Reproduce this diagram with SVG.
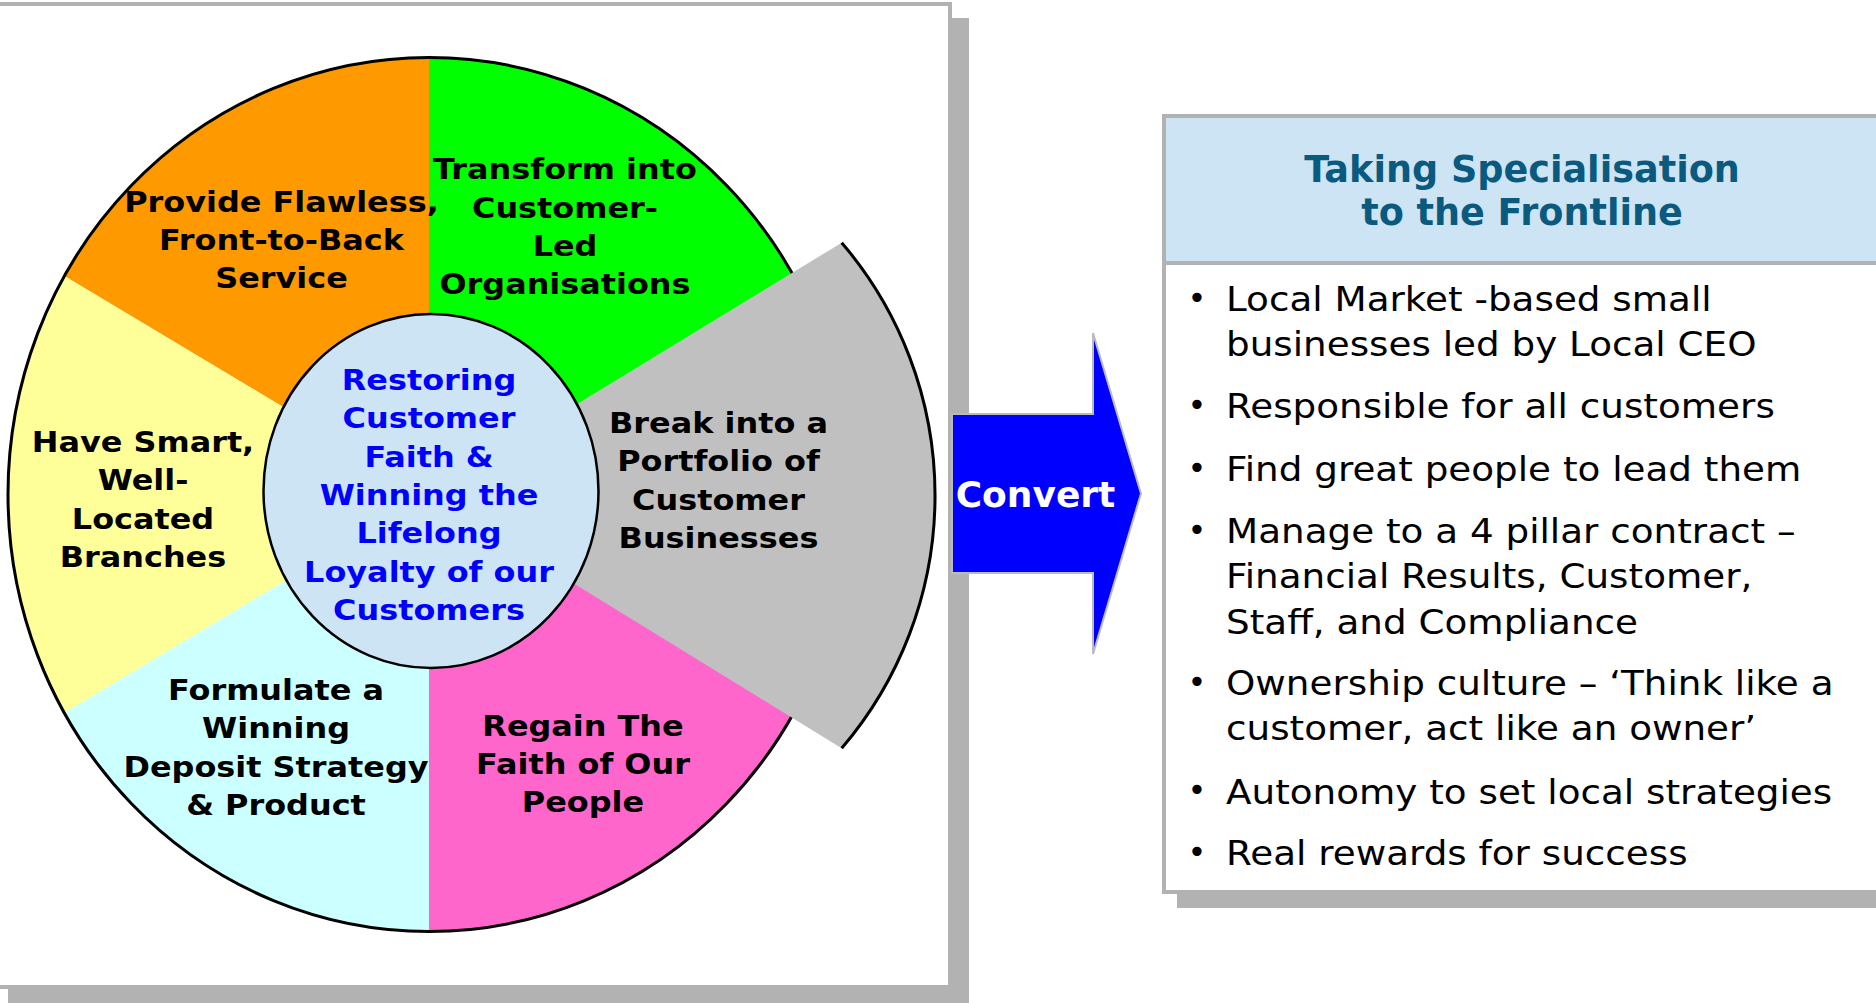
<svg xmlns="http://www.w3.org/2000/svg" width="1876" height="1003" viewBox="0 0 1876 1003">
  <style>
    .panel { fill: #FFFFFF; stroke: #B2B2B2; stroke-width: 4; }
    .shadow { fill: #B2B2B2; }
    .lbl { font-family: "DejaVu Sans", Verdana, sans-serif; font-weight: bold; font-size: 29px; fill: #000000; text-anchor: middle; }
    .hub { fill: #0000FF; }
    .head { font-family: "DejaVu Sans", Verdana, sans-serif; font-weight: bold; font-size: 36.6px; fill: #0A5A80; text-anchor: middle; }
    .item { font-family: "DejaVu Sans", Verdana, sans-serif; font-size: 33px; fill: #000000; }
    .dot { font-family: "DejaVu Sans", Verdana, sans-serif; font-size: 32px; fill: #000000; text-anchor: middle; }
    .conv { font-family: "DejaVu Sans", Verdana, sans-serif; font-weight: bold; font-size: 36px; fill: #FFFFFF; text-anchor: middle; }
  </style>

  <rect width="1876" height="1003" fill="#FFFFFF"/>

  <!-- left panel with drop shadow -->
  <g id="wheel-panel">
    <rect class="shadow" x="8" y="18" width="961" height="995"/>
    <rect class="panel" x="-4" y="4" width="954" height="983"/>
  </g>

  <!-- priority wheel -->
  <g id="wheel">
    <g id="seg-transform">
      <path d="M429,494.5 L429,57.5 A421,437 0 0 1 793.6,276 Z" fill="#00FF00"/>
    </g>
    <g id="seg-service">
      <path d="M429,494.5 L64.4,276 A421,437 0 0 1 429,57.5 Z" fill="#FF9900"/>
    </g>
    <g id="seg-branches">
      <path d="M429,494.5 L64.4,713 A421,437 0 0 1 64.4,276 Z" fill="#FFFF99"/>
    </g>
    <g id="seg-deposit">
      <path d="M429,494.5 L429,931.5 A421,437 0 0 1 64.4,713 Z" fill="#CCFFFF"/>
    </g>
    <g id="seg-people">
      <path d="M429,494.5 L793.6,713 A421,437 0 0 1 429,931.5 Z" fill="#FF66CC"/>
    </g>
    <ellipse cx="429" cy="494.5" rx="421" ry="437" fill="none" stroke="#000000" stroke-width="3"/>

    <!-- exploded segment -->
    <g id="seg-portfolio">
      <path d="M429,494.5 L841.7,242.7 A389,389 0 0 1 841.7,748.3 Z" fill="#C0C0C0"/>
      <path d="M841.7,242.7 A389,389 0 0 1 841.7,748.3" fill="none" stroke="#000000" stroke-width="3"/>
    </g>

    <g id="hub">
      <ellipse cx="431" cy="491" rx="167.5" ry="177" fill="#CCE4F4" stroke="#000000" stroke-width="2.5"/>
    </g>
  </g>

  <!-- wheel labels -->
  <g id="label-service" transform="translate(281.5,0) scale(1.1,1)">
    <text class="lbl"><tspan x="0" y="211.8">Provide Flawless,</tspan><tspan x="0" y="250">Front-to-Back</tspan><tspan x="0" y="288.3">Service</tspan></text>
  </g>
  <g id="label-transform" transform="translate(565,0) scale(1.1,1)">
    <text class="lbl"><tspan x="0" y="179.5">Transform into</tspan><tspan x="0" y="217.8">Customer-</tspan><tspan x="0" y="256">Led</tspan><tspan x="0" y="294.3">Organisations</tspan></text>
  </g>
  <g id="label-branches" transform="translate(143,0) scale(1.1,1)">
    <text class="lbl"><tspan x="0" y="452">Have Smart,</tspan><tspan x="0" y="490.5">Well-</tspan><tspan x="0" y="528.8">Located</tspan><tspan x="0" y="567">Branches</tspan></text>
  </g>
  <g id="label-portfolio" transform="translate(718.5,0) scale(1.1,1)">
    <text class="lbl"><tspan x="0" y="433">Break into a</tspan><tspan x="0" y="471.4">Portfolio of</tspan><tspan x="0" y="509.7">Customer</tspan><tspan x="0" y="548">Businesses</tspan></text>
  </g>
  <g id="label-deposit" transform="translate(276,0) scale(1.1,1)">
    <text class="lbl"><tspan x="0" y="700">Formulate a</tspan><tspan x="0" y="738.3">Winning</tspan><tspan x="0" y="776.6">Deposit Strategy</tspan><tspan x="0" y="815">&amp; Product</tspan></text>
  </g>
  <g id="label-people" transform="translate(583,0) scale(1.1,1)">
    <text class="lbl"><tspan x="0" y="736">Regain The</tspan><tspan x="0" y="774">Faith of Our</tspan><tspan x="0" y="812">People</tspan></text>
  </g>
  <g id="label-hub" transform="translate(429,0) scale(1.1,1)">
    <text class="lbl hub"><tspan x="0" y="390">Restoring</tspan><tspan x="0" y="428.3">Customer</tspan><tspan x="0" y="466.6">Faith &amp;</tspan><tspan x="0" y="505">Winning the</tspan><tspan x="0" y="543.3">Lifelong</tspan><tspan x="0" y="581.6">Loyalty of our</tspan><tspan x="0" y="620">Customers</tspan></text>
  </g>

  <!-- connector: block arrow -->
  <g id="connectors">
    <g id="convert-arrow">
      <polygon points="952,414 1093,414 1093,333 1141,493.5 1093,654 1093,573 952,573" fill="#0000FF" stroke="#BBBBBB" stroke-width="2" stroke-linejoin="miter"/>
      <text class="conv" x="1035.5" y="507">Convert</text>
    </g>
  </g>

  <!-- right panel -->
  <g id="frontline-panel">
    <rect class="shadow" x="1177" y="130" width="720" height="778"/>
    <rect x="1164" y="116" width="730" height="776" fill="#FFFFFF" stroke="#B2B2B2" stroke-width="4"/>
    <rect x="1166" y="118" width="728" height="145" fill="#CCE4F4"/>
    <line x1="1164" y1="263" x2="1876" y2="263" stroke="#B2B2B2" stroke-width="4"/>
    <text class="head"><tspan x="1522" y="181.5">Taking Specialisation</tspan><tspan x="1522" y="225">to the Frontline</tspan></text>

    <g id="bullets">
      <text class="dot" x="1197" y="309">•</text>
      <text class="dot" x="1197" y="416">•</text>
      <text class="dot" x="1197" y="478.5">•</text>
      <text class="dot" x="1197" y="541">•</text>
      <text class="dot" x="1197" y="692.5">•</text>
      <text class="dot" x="1197" y="801">•</text>
      <text class="dot" x="1197" y="863">•</text>
    </g>
    <g id="items" transform="translate(1226,0) scale(1.13,1)">
      <text class="item"><tspan x="0" y="311.5">Local Market -based small</tspan><tspan x="0" y="356">businesses led by Local CEO</tspan></text>
      <text class="item" x="0" y="418.5">Responsible for all customers</text>
      <text class="item" x="0" y="481">Find great people to lead them</text>
      <text class="item"><tspan x="0" y="543.3">Manage to a 4 pillar contract –</tspan><tspan x="0" y="588.5">Financial Results, Customer,</tspan><tspan x="0" y="633.7">Staff, and Compliance</tspan></text>
      <text class="item"><tspan x="0" y="695">Ownership culture – ‘Think like a</tspan><tspan x="0" y="740.3">customer, act like an owner’</tspan></text>
      <text class="item" x="0" y="803.7">Autonomy to set local strategies</text>
      <text class="item" x="0" y="865.5">Real rewards for success</text>
    </g>
  </g>
</svg>
